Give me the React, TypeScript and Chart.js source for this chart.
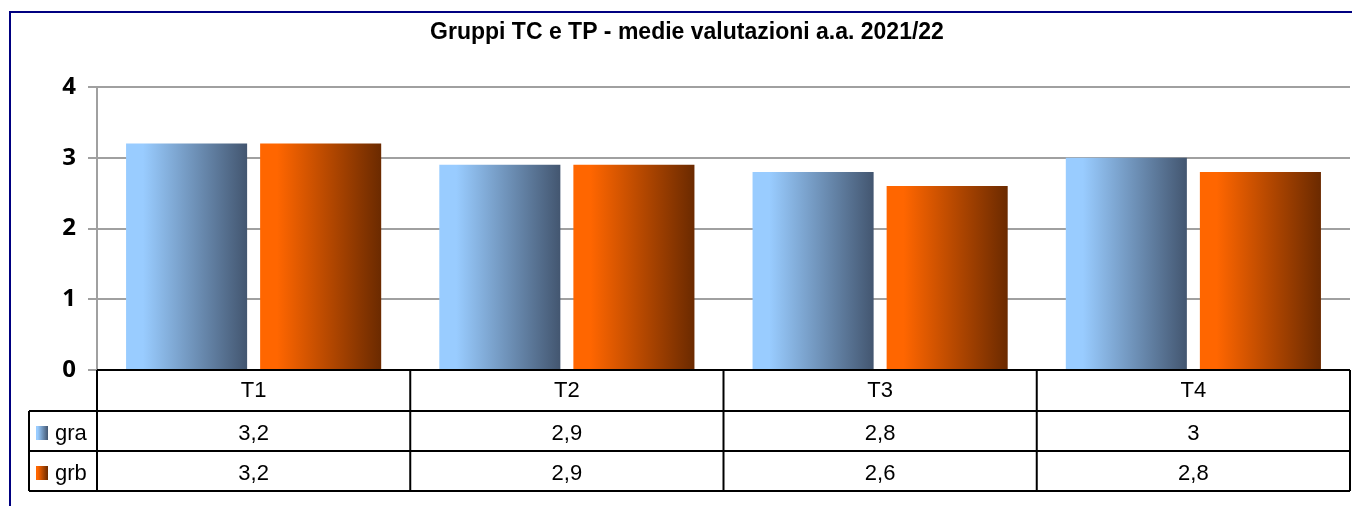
import React, { useEffect, useRef } from "react";
import { Chart, registerables } from "chart.js";

Chart.register(...registerables);

const titleText = "Gruppi TC e TP - medie valutazioni a.a. 2021/22";
const categories = ["T1", "T2", "T3", "T4"];
const seriesNames = ["gra", "grb"];
const graValues = [3.2, 2.9, 2.8, 3];
const grbValues = [3.2, 2.9, 2.6, 2.8];
const yMin = 0;
const yMax = 4;
const yStep = 1;

const graColors = ["#99CCFF", "#99CCFF", "#435670"];
const grbColors = ["#FF6600", "#FF6600", "#6B2A00"];

const FONT = "'Liberation Sans', Arial, sans-serif";
const TICK_FONT = "'Open Sans', 'Liberation Sans', sans-serif";

function makeGrad(ctx: CanvasRenderingContext2D, x0: number, x1: number, cols: string[]) {
  const g = ctx.createLinearGradient(x0, 0, x1, 0);
  g.addColorStop(0, cols[0]);
  g.addColorStop(0.14, cols[1]);
  g.addColorStop(1, cols[2]);
  return g;
}

const fmt = (v: number) => String(v).replace(".", ",");

const decorPlugin = {
  id: "decor",
  beforeDraw(chart: any) {
    const ctx = chart.ctx as CanvasRenderingContext2D;
    ctx.save();
    ctx.fillStyle = "#fff";
    ctx.fillRect(0, 0, chart.width, chart.height);
    ctx.strokeStyle = "#000080";
    ctx.lineWidth = 2;
    ctx.beginPath();
    ctx.moveTo(10, chart.height + 5);
    ctx.lineTo(10, 12);
    ctx.lineTo(chart.width + 5, 12);
    ctx.stroke();
    ctx.fillStyle = "#000";
    ctx.font = `bold 23px ${FONT}`;
    ctx.textAlign = "center";
    ctx.textBaseline = "middle";
    ctx.fillText(titleText, 687, 33);
    ctx.restore();
  },
  beforeDatasetsDraw(chart: any) {
    const ctx = chart.ctx as CanvasRenderingContext2D;
    chart.data.datasets.forEach((ds: any, di: number) => {
      const meta = chart.getDatasetMeta(di);
      const cols = di === 0 ? graColors : grbColors;
      meta.data.forEach((el: any) => {
        const left = el.x - el.width / 2;
        const right = el.x + el.width / 2;
        el.options = { ...el.options, backgroundColor: makeGrad(ctx, left, right, cols) };
      });
    });
  },
  afterDraw(chart: any) {
    const ctx = chart.ctx as CanvasRenderingContext2D;
    const x = chart.scales.x;
    const area = chart.chartArea;
    const half = (x.getPixelForValue(1) - x.getPixelForValue(0)) / 2;
    const top = area.bottom;
    const rowH = [41, 40, 40];
    const y1 = top + rowH[0];
    const y2 = y1 + rowH[1];
    const y3 = y2 + rowH[2];
    const legLeft = 29;
    ctx.save();
    ctx.strokeStyle = "#000";
    ctx.lineWidth = 2;
    ctx.beginPath();
    ctx.moveTo(area.left, top);
    ctx.lineTo(area.right, top);
    [y1, y2, y3].forEach((yy) => {
      ctx.moveTo(legLeft, yy);
      ctx.lineTo(area.right, yy);
    });
    ctx.moveTo(legLeft, y1);
    ctx.lineTo(legLeft, y3);
    for (let i = 0; i <= categories.length; i++) {
      const bx = i < categories.length ? x.getPixelForValue(i) - half : x.getPixelForValue(categories.length - 1) + half;
      ctx.moveTo(bx, top);
      ctx.lineTo(bx, y3);
    }
    ctx.stroke();

    ctx.fillStyle = "#000";
    ctx.font = `22px ${FONT}`;
    ctx.textAlign = "center";
    ctx.textBaseline = "middle";
    const rows = [graValues, grbValues];
    categories.forEach((c, i) => {
      const cx = x.getPixelForValue(i);
      ctx.fillText(c, cx, (top + y1) / 2);
      ctx.fillText(fmt(rows[0][i]), cx, (y1 + y2) / 2 + 3);
      ctx.fillText(fmt(rows[1][i]), cx, (y2 + y3) / 2 + 3);
    });
    ctx.textAlign = "left";
    seriesNames.forEach((n, si) => {
      const ry = si === 0 ? (y1 + y2) / 2 : (y2 + y3) / 2;
      const cols = si === 0 ? graColors : grbColors;
      ctx.fillStyle = makeGrad(ctx, 36, 48, [cols[0], cols[0], cols[2]]);
      ctx.fillRect(36, ry - 5, 12, 14);
      ctx.fillStyle = "#000";
      ctx.fillText(n, 55, ry + 3);
    });
    ctx.restore();
  },
};

export default function App() {
  const ref = useRef<HTMLCanvasElement>(null);
  useEffect(() => {
    const chart = new Chart(ref.current!, {
      type: "bar",
      data: {
        labels: categories,
        datasets: [
          { label: seriesNames[0], data: graValues, backgroundColor: graColors[0], borderWidth: 0, categoryPercentage: 0.856, barPercentage: 0.903 },
          { label: seriesNames[1], data: grbValues, backgroundColor: grbColors[0], borderWidth: 0, categoryPercentage: 0.856, barPercentage: 0.903 },
        ],
      },
      options: {
        responsive: false,
        animation: false,
        layout: { padding: { top: 87, bottom: 136, left: 0, right: 2 } },
        plugins: { legend: { display: false }, tooltip: { enabled: false }, title: { display: false } },
        scales: {
          x: { display: false },
          y: {
            min: yMin,
            max: yMax,
            ticks: { stepSize: yStep, color: "#000", padding: 12, font: { family: TICK_FONT, size: 24, weight: "bold" } },
            grid: { color: "#A0A0A0", lineWidth: 2, tickLength: 9 },
            border: { color: "#A0A0A0", width: 2 },
            afterFit: (s: any) => { s.width = 97; },
          },
        },
      },
      plugins: [decorPlugin],
    });
    return () => chart.destroy();
  }, []);
  return (
    <div style={{ position: "fixed", left: 0, top: 0, width: 1352, height: 506 }}>
      <canvas ref={ref} width={1352} height={506} />
    </div>
  );
}
